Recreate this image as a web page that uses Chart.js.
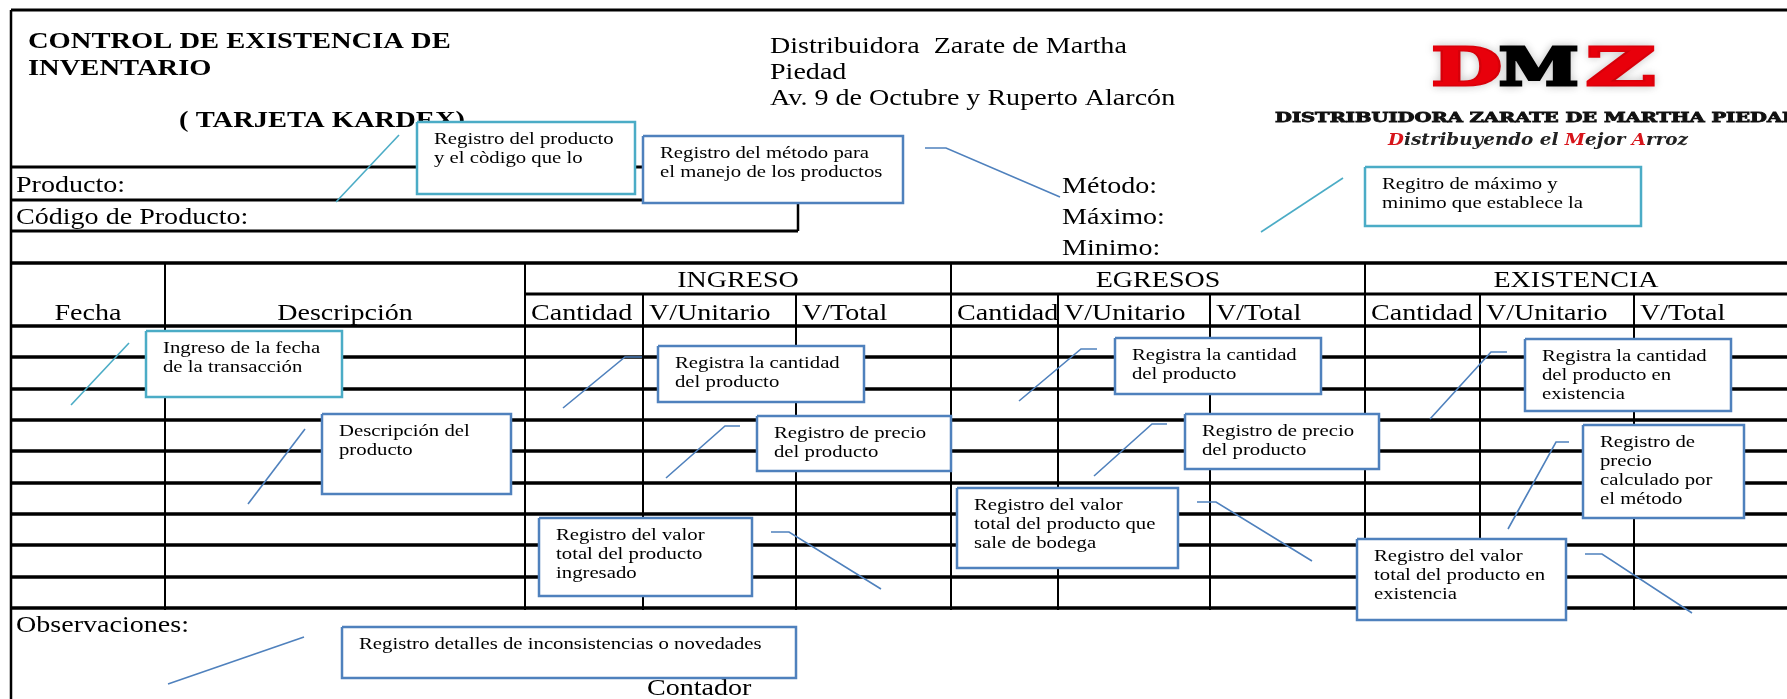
<!DOCTYPE html>
<html>
<head>
<meta charset="utf-8">
<title>Tarjeta Kardex</title>
<script src="https://cdn.jsdelivr.net/npm/chart.js@4.4.1/dist/chart.umd.min.js"></script>
<style>
  html, body { margin: 0; padding: 0; background: #fff; }
  canvas { display: block; }
</style>
</head>
<body>
<canvas id="kardex" width="1787" height="699"></canvas>
<script>
// espacio de la hoja (mismas unidades que la imagen)
const sheetW = 1787;
const sheetH = 699;

// marco y bloque de producto
const frameLeft = 11;
const frameTop = 10;
const fieldRows = [167, 200, 231];
const fieldRight = 798;

// tabla kardex
const tableTop = 263;
const subHeadLine = 294;
const bodyRows = [326, 357, 389, 420, 451, 483, 514, 545, 577, 608];
const mainCols = [165, 525, 951, 1365];
const subCols = [643, 796, 1058, 1210, 1480, 1634];

// textos
const titleLines = ['CONTROL DE EXISTENCIA DE', 'INVENTARIO'];
const subtitle = '( TARJETA KARDEX)';
const companyLines = ['Distribuidora  Zarate de Martha', 'Piedad', 'Av. 9 de Octubre y Ruperto Alarcón'];
const fieldLabels = ['Producto:', 'Código de Producto:'];
const methodLabels = ['Método:', 'Máximo:', 'Minimo:'];
const firstHeads = ['Fecha', 'Descripción'];
const groupHeads = ['INGRESO', 'EGRESOS', 'EXISTENCIA'];
const subHeads = ['Cantidad', 'V/Unitario', 'V/Total'];
const footerLabels = ['Observaciones:', 'Contador'];
const logoLetters = ['D', 'M', 'Z'];
const logoName = 'DISTRIBUIDORA ZARATE DE MARTHA PIEDAD';
const logoSlogan = ['D', 'istribuyendo el ', 'M', 'ejor ', 'A', 'rroz'];

// notas explicativas (cuadros con su linea guia)
const noteLines = [
    ['Registro del producto', 'y el còdigo que lo'],
    ['Registro del método para', 'el manejo de los productos'],
    ['Regitro de máximo y', 'minimo que establece la'],
    ['Ingreso de la fecha', 'de la transacción'],
    ['Descripción del', 'producto'],
    ['Registra la cantidad', 'del producto'],
    ['Registro de precio', 'del producto'],
    ['Registra la cantidad', 'del producto'],
    ['Registro de precio', 'del producto'],
    ['Registra la cantidad', 'del producto en', 'existencia'],
    ['Registro de', 'precio', 'calculado por', 'el método'],
    ['Registro del valor', 'total del producto', 'ingresado'],
    ['Registro del valor', 'total del producto que', 'sale de bodega'],
    ['Registro del valor', 'total del producto en', 'existencia'],
    ['Registro detalles de inconsistencias o novedades']
];
const noteBoxes = [
    [417, 122, 635, 194], [643, 136, 903, 203], [1365, 167, 1641, 226],
    [146, 331, 342, 397], [322, 414, 511, 494], [658, 346, 864, 402],
    [757, 416, 951, 471], [1115, 338, 1321, 394], [1185, 414, 1379, 469],
    [1525, 339, 1731, 411], [1583, 425, 1744, 518], [539, 518, 752, 596],
    [957, 488, 1178, 568], [1357, 539, 1566, 620], [342, 627, 796, 678]
];
const noteLeaders = [
    [[399, 135], [336, 202]],
    [[925, 148], [946, 148], [1060, 197]],
    [[1343, 178], [1261, 232]],
    [[129, 343], [71, 405]],
    [[305, 429], [248, 504]],
    [[642, 357], [625, 357], [563, 408]],
    [[740, 426], [725, 426], [666, 478]],
    [[1097, 349], [1081, 349], [1019, 401]],
    [[1167, 424], [1152, 424], [1094, 476]],
    [[1507, 352], [1491, 352], [1430, 419]],
    [[1569, 442], [1556, 442], [1508, 529]],
    [[771, 532], [789, 532], [881, 589]],
    [[1197, 502], [1216, 502], [1312, 561]],
    [[1585, 554], [1602, 554], [1692, 613]],
    [[304, 637], [168, 684]]
];
const noteTones = ['teal', 'blue', 'teal', 'teal', 'blue', 'blue', 'blue', 'blue',
    'blue', 'blue', 'blue', 'blue', 'blue', 'blue', 'blue'];

const toneColor = { teal: '#4BACC6', blue: '#4F81BD' };
const serif = '"Liberation Serif", "Times New Roman", serif';
const stretch = 1.22; // el documento original esta estirado a lo ancho

// segmentos negros del formulario
function formSegments() {
    const segs = [];
    segs.push({ a: [frameLeft, frameTop], b: [sheetW, frameTop], w: 3 });
    segs.push({ a: [frameLeft, frameTop], b: [frameLeft, sheetH], w: 2.5 });
    fieldRows.forEach(y => segs.push({ a: [frameLeft, y], b: [fieldRight, y], w: 3 }));
    segs.push({ a: [fieldRight, fieldRows[0]], b: [fieldRight, fieldRows[2]], w: 2.5 });
    segs.push({ a: [frameLeft, tableTop], b: [sheetW, tableTop], w: 3.5 });
    segs.push({ a: [mainCols[1], subHeadLine], b: [sheetW, subHeadLine], w: 3 });
    bodyRows.forEach(y => segs.push({ a: [frameLeft, y], b: [sheetW, y], w: 3.5 }));
    const bottom = bodyRows[bodyRows.length - 1];
    mainCols.forEach(x => segs.push({ a: [x, tableTop], b: [x, bottom + 2], w: 2 }));
    subCols.forEach(x => segs.push({ a: [x, subHeadLine], b: [x, bottom + 2], w: 2 }));
    return segs;
}

function buildDatasets() {
    const sets = [];
    noteBoxes.forEach((b, i) => {
        sets.push({
            data: [{ x: b[0], y: b[1] }, { x: b[2], y: b[1] }, { x: b[2], y: b[3] }, { x: b[0], y: b[3] }, { x: b[0], y: b[1] }],
            showLine: true,
            borderColor: toneColor[noteTones[i]],
            borderWidth: 2.5,
            backgroundColor: '#ffffff',
            fill: 'shape',
            pointRadius: 0,
            tension: 0,
            order: 0
        });
    });
    noteLeaders.forEach((pts, i) => {
        sets.push({
            data: pts.map(p => ({ x: p[0], y: p[1] })),
            showLine: true,
            borderColor: toneColor[noteTones[i]],
            borderWidth: 1.6,
            fill: false,
            pointRadius: 0,
            tension: 0,
            order: 1
        });
    });
    formSegments().forEach(s => {
        sets.push({
            data: [{ x: s.a[0], y: s.a[1] }, { x: s.b[0], y: s.b[1] }],
            showLine: true,
            borderColor: '#000000',
            borderWidth: s.w,
            fill: false,
            pointRadius: 0,
            order: 2
        });
    });
    return sets;
}

// escribe un texto estirado horizontalmente
function put(ctx, str, px, py, font, align, sx, color, sy, stroke) {
    ctx.save();
    ctx.font = font;
    ctx.fillStyle = color || '#000';
    ctx.textBaseline = 'alphabetic';
    ctx.textAlign = align || 'left';
    ctx.translate(px, py);
    ctx.scale(sx, sy || 1);
    if (stroke) {
        ctx.strokeStyle = color;
        ctx.lineWidth = stroke;
        ctx.lineJoin = 'miter';
        ctx.strokeText(str, 0, 0);
    }
    ctx.fillText(str, 0, 0);
    ctx.restore();
}

function fitScale(ctx, str, font, width) {
    ctx.save();
    ctx.font = font;
    const w = ctx.measureText(str).width;
    ctx.restore();
    return width / w;
}

// escala para que la tinta del glifo ocupe la caja pedida
function inkFit(ctx, str, font, width, height) {
    ctx.save();
    ctx.font = font;
    const m = ctx.measureText(str);
    ctx.restore();
    const ink = m.actualBoundingBoxLeft + m.actualBoundingBoxRight;
    return {
        sx: width / ink,
        sy: height / m.actualBoundingBoxAscent,
        shift: m.actualBoundingBoxLeft * (width / ink)
    };
}

const whiteBg = {
    id: 'whiteBg',
    beforeDraw(chart) {
        const ctx = chart.ctx;
        ctx.save();
        ctx.fillStyle = '#fff';
        ctx.fillRect(0, 0, chart.width, chart.height);
        ctx.restore();
    }
};

// textos del formulario (debajo de los cuadros)
const formText = {
    id: 'formText',
    beforeDatasetsDraw(chart) {
        const ctx = chart.ctx;
        const X = v => chart.scales.x.getPixelForValue(v);
        const Y = v => chart.scales.y.getPixelForValue(v);
        const bold = 'bold 24px ' + serif;
        const reg = '23px ' + serif;

        put(ctx, titleLines[0], X(28), Y(48), bold, 'left', stretch * 0.975);
        put(ctx, titleLines[1], X(28), Y(75), bold, 'left', stretch * 0.975);
        put(ctx, subtitle, X(179), Y(127), bold, 'left', stretch * 0.975);

        companyLines.forEach((t, i) => put(ctx, t, X(770), Y(53 + i * 26), reg, 'left', stretch));
        fieldLabels.forEach((t, i) => put(ctx, t, X(16), Y(192 + i * 32), reg, 'left', stretch));
        methodLabels.forEach((t, i) => put(ctx, t, X(1062), Y(193 + i * 31), reg, 'left', stretch));

        // cabecera de la tabla
        const edges = [frameLeft, mainCols[0], mainCols[1]];
        firstHeads.forEach((t, i) => put(ctx, t, X((edges[i] + edges[i + 1]) / 2), Y(320), reg, 'center', stretch));
        const groupEdges = [mainCols[1], mainCols[2], mainCols[3], sheetW];
        groupHeads.forEach((t, i) => put(ctx, t, X((groupEdges[i] + groupEdges[i + 1]) / 2), Y(287), reg, 'center', stretch));
        const starts = [mainCols[1], subCols[0], subCols[1], mainCols[2], subCols[2], subCols[3], mainCols[3], subCols[4], subCols[5]];
        starts.forEach((x0, i) => put(ctx, subHeads[i % 3], X(x0 + 6), Y(320), reg, 'left', stretch));

        put(ctx, footerLabels[0], X(16), Y(632), reg, 'left', stretch);
        put(ctx, footerLabels[1], X(647), Y(695), reg, 'left', stretch);

        // logotipo
        const logoFont = 'bold 52px "DejaVu Serif", serif';
        const letterBox = [[1433, 67], [1500, 78], [1586, 69]];
        const letterColor = ['#E8000B', '#000000', '#E8000B'];
        ctx.save();
        ctx.shadowColor = 'rgba(0,0,0,0.18)';
        ctx.shadowBlur = 10;
        logoLetters.forEach((l, i) => {
            const f = inkFit(ctx, l, logoFont, letterBox[i][1] - 3, 38);
            put(ctx, l, X(letterBox[i][0] + 1.5) + f.shift, Y(85), logoFont, 'left', f.sx, letterColor[i], f.sy, 3);
        });
        ctx.restore();
        const nameFont = 'bold 13px "DejaVu Serif", serif';
        put(ctx, logoName, X(1275), Y(122), nameFont, 'left', fitScale(ctx, logoName, nameFont, 524), '#111', 1, 0.8);
        const sloganFont = 'italic bold 17px "DejaVu Serif", serif';
        const full = logoSlogan.join('');
        const ssx = fitScale(ctx, full, sloganFont, 300);
        let cx = 1388;
        logoSlogan.forEach((part, i) => {
            put(ctx, part, X(cx), Y(145), sloganFont, 'left', ssx, i % 2 === 0 ? '#D7141A' : '#222');
            ctx.save();
            ctx.font = sloganFont;
            cx += ctx.measureText(part).width * ssx;
            ctx.restore();
        });
    },
    // textos de las notas (encima de los cuadros)
    afterDatasetsDraw(chart) {
        const ctx = chart.ctx;
        const X = v => chart.scales.x.getPixelForValue(v);
        const Y = v => chart.scales.y.getPixelForValue(v);
        const small = '17px ' + serif;
        noteLines.forEach((lines, i) => {
            const b = noteBoxes[i];
            lines.forEach((t, j) => put(ctx, t, X(b[0] + 17), Y(b[1] + 22 + j * 19), small, 'left', stretch));
        });
    }
};

const ctx = document.getElementById('kardex').getContext('2d');
const kardexChart = new Chart(ctx, {
    type: 'scatter',
    data: { datasets: buildDatasets() },
    options: {
        responsive: false,
        animation: false,
        devicePixelRatio: 1,
        layout: { padding: 0 },
        plugins: {
            legend: { display: false },
            tooltip: { enabled: false }
        },
        scales: {
            x: { type: 'linear', min: 0, max: sheetW, display: false },
            y: { type: 'linear', min: 0, max: sheetH, reverse: true, display: false }
        }
    },
    plugins: [whiteBg, formText]
});
</script>
</body>
</html>
